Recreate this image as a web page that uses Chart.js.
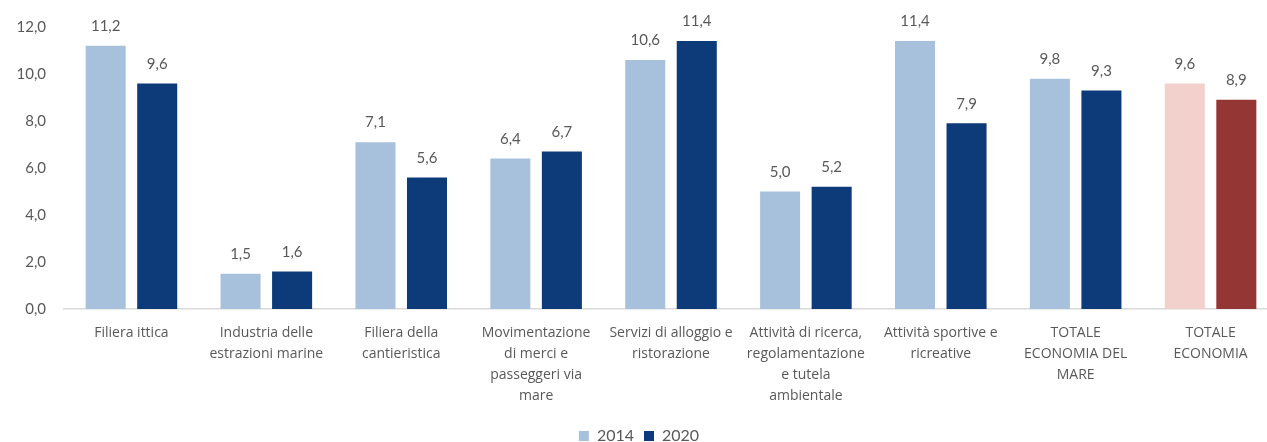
<!DOCTYPE html>
<html>
<head>
<meta charset="utf-8">
<script src="https://cdn.jsdelivr.net/npm/chart.js@4.4.1/dist/chart.umd.min.js"></script>
<style>
  html, body { margin: 0; padding: 0; background: #fff; overflow: hidden; }
  #wrap { width: 1278px; height: 454px; position: relative; }
</style>
</head>
<body>
<div id="wrap"><canvas id="chart"></canvas></div>
<script>
// ===== Data =====
const categories = [
    'Filiera ittica',
    ['Industria delle', 'estrazioni marine'],
    ['Filiera della', 'cantieristica'],
    ['Movimentazione', 'di merci e', 'passeggeri via', 'mare'],
    ['Servizi di alloggio e', 'ristorazione'],
    ['Attività di ricerca,', 'regolamentazione', 'e tutela', 'ambientale'],
    ['Attività sportive e', 'ricreative'],
    ['TOTALE', 'ECONOMIA DEL', 'MARE'],
    ['TOTALE', 'ECONOMIA']
];
const values2014 = [11.2, 1.5, 7.1, 6.4, 10.6, 5.0, 11.4, 9.8, 9.6];
const values2020 = [9.6, 1.6, 5.6, 6.7, 11.4, 5.2, 7.9, 9.3, 8.9];
const yTicks = [0, 2, 4, 6, 8, 10, 12];

const light = '#A7C1DD', dark = '#0D3A78';
const lightTot = '#F2D1CD', darkTot = '#943634';
const textColor = '#595959';
const fmt = v => v.toFixed(1).replace('.', ',');

// bar value labels
const valueLabels = {
    id: 'valueLabels',
    afterDatasetsDraw(chart) {
        const ctx = chart.ctx;
        ctx.save();
        ctx.font = '15px Lato';
        ctx.fillStyle = textColor;
        ctx.textAlign = 'center';
        ctx.textBaseline = 'bottom';
        chart.data.datasets.forEach((ds, i) => {
            chart.getDatasetMeta(i).data.forEach((bar, j) => {
                ctx.fillText(fmt(ds.data[j]), bar.x, bar.y - 12);
            });
        });
        ctx.restore();
    }
};

new Chart(document.getElementById('chart'), {
    type: 'bar',
    data: {
        labels: categories,
        datasets: [
            { label: '2014', data: values2014,
              backgroundColor: values2014.map((v, i) => i === values2014.length - 1 ? lightTot : light) },
            { label: '2020', data: values2020,
              backgroundColor: values2020.map((v, i) => i === values2020.length - 1 ? darkTot : dark) }
        ]
    },
    options: {
        responsive: true,
        maintainAspectRatio: false,
        animation: false,
        layout: { padding: { top: 18, left: 0, right: 0, bottom: 0 } },
        datasets: { bar: { categoryPercentage: 0.764, barPercentage: 0.777 } },
        plugins: {
            legend: {
                position: 'bottom',
                labels: { boxWidth: 10, boxHeight: 10, padding: 10, color: textColor, font: { family: 'Lato', size: 16 } }
            },
            tooltip: { enabled: false }
        },
        scales: {
            x: {
                grid: { display: false, drawTicks: false },
                border: { display: true, color: '#D9D9D9', width: 1.5 },
                ticks: { color: textColor, padding: 14, maxRotation: 0, autoSkip: false,
                         font: { family: 'Open Sans', size: 14, lineHeight: 1.5 } },
                afterFit: s => { s.height = 109; }
            },
            y: {
                min: 0, max: 12,
                afterBuildTicks: axis => { axis.ticks = yTicks.map(v => ({ value: v })); },
                grid: { display: false, drawTicks: false },
                border: { display: false },
                ticks: { color: textColor, padding: 18, font: { family: 'Lato', size: 15 },
                         callback: v => fmt(v) },
                afterFit: s => { s.width = 64; }
            }
        }
    },
    plugins: [valueLabels]
});
</script>
</body>
</html>
